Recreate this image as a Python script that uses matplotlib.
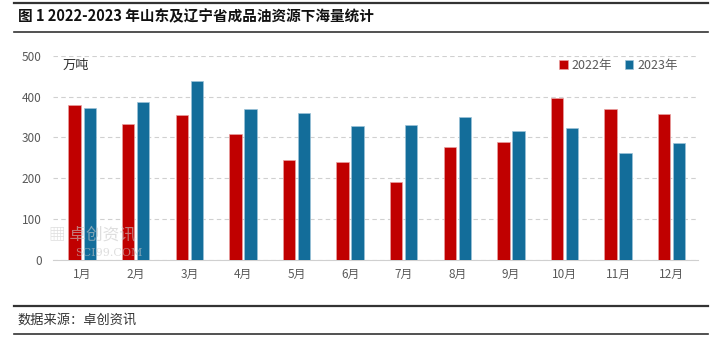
import matplotlib.pyplot as plt
import numpy as np

plt.rcParams['font.family'] = ['Noto Sans CJK SC', 'DejaVu Sans']

months = ['1月', '2月', '3月', '4月', '5月', '6月', '7月', '8月', '9月', '10月', '11月', '12月']
vol_2022 = [379, 334, 354, 308, 244, 240, 192, 276, 289, 396, 370, 357]
vol_2023 = [373, 386, 438, 370, 360, 328, 331, 350, 315, 322, 263, 286]
series_names = ['2022年', '2023年']
yticks = [0, 100, 200, 300, 400, 500]

red = '#C00000'
blue = '#136D9A'
grey = '#595959'

fig = plt.figure(figsize=(7.12, 3.38), dpi=100)

# header / footer rules
for y, lw in [(0.991, 1.6), (0.905, 1.2), (0.095, 1.6), (0.012, 1.2)]:
    fig.add_artist(plt.Line2D([0.02, 0.995], [y, y], color='#333333', lw=lw))
fig.text(0.025, 0.953, '图 1 2022-2023 年山东及辽宁省成品油资源下海量统计',
         fontsize=10.5, fontweight='bold', va='center', color='#111111')
fig.text(0.025, 0.052, '数据来源：卓创资讯', fontsize=9.5, va='center', color='#333333')

ax = fig.add_axes([0.074, 0.231, 0.907, 0.604])
x = np.arange(len(months))
w = 0.23
ax.bar(x - 0.14, vol_2022, w, color=red, edgecolor='#e8a0a0', linewidth=0.5,
       label=series_names[0], zorder=3)
ax.bar(x + 0.14, vol_2023, w, color=blue, edgecolor='#9cc3d8', linewidth=0.5,
       label=series_names[1], zorder=3)

ax.set_xlim(-0.55, 11.5)
ax.set_ylim(0, 500)
ax.set_yticks(yticks)
ax.set_xticks(x)
ax.set_xticklabels(months)
ax.tick_params(axis='both', length=0, colors=grey, labelsize=8.5)
ax.tick_params(axis='y', pad=8)
ax.tick_params(axis='x', pad=6)
ax.grid(axis='y', color='#d0d0d0', linestyle=(0, (4, 3)), linewidth=0.8, zorder=0)
for s in ['top', 'right', 'left']:
    ax.spines[s].set_visible(False)
ax.spines['bottom'].set_color('#d0d0d0')

ax.text(0.015, 0.985, '万吨', transform=ax.transAxes, fontsize=9.5, color='#333333', va='top')

leg = ax.legend(loc='upper right', bbox_to_anchor=(0.985, 1.04), ncol=2, frameon=False,
                fontsize=9, handlelength=0.7, handleheight=0.7, handletextpad=0.3,
                columnspacing=1.0)
for t in leg.get_texts():
    t.set_color(grey)

# watermark, drawn over the bars
ax.text(-0.005, 0.12, '▦ 卓创资讯', transform=ax.transAxes, fontsize=12, color='#c8c8c8',
        alpha=0.6, va='center', zorder=5)
ax.text(0.035, 0.035, 'SCI99.COM', transform=ax.transAxes, fontsize=8, color='#c8c8c8',
        alpha=0.6, family='DejaVu Serif', va='center', zorder=5)

fig.savefig('out.png', dpi=100)
